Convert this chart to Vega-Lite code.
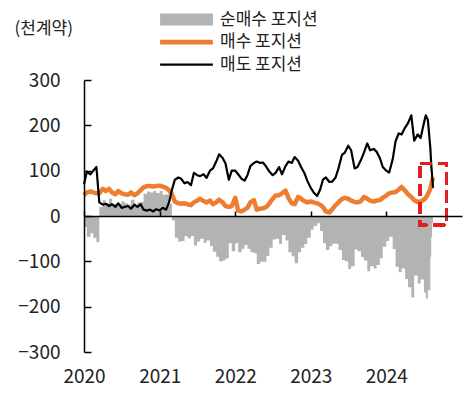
{
  "$schema": "https://vega.github.io/schema/vega-lite/v6.json",
  "width": 378,
  "height": 272,
  "autosize": "none",
  "padding": {"left": 84, "top": 80, "right": 14, "bottom": 44},
  "config": {
    "font": "Noto Sans CJK KR",
    "view": {"stroke": null}
  },
  "data": {
    "values": [
      {"d": "2020-01-01", "buy": 46, "sell": 70, "net": -24},
      {"d": "2020-01-15", "buy": 52, "sell": 98, "net": -46},
      {"d": "2020-02-01", "buy": 54, "sell": 92, "net": -38},
      {"d": "2020-02-15", "buy": 52, "sell": 100, "net": -48},
      {"d": "2020-03-01", "buy": 50, "sell": 108, "net": -58},
      {"d": "2020-03-15", "buy": 50, "sell": 30, "net": 20},
      {"d": "2020-04-01", "buy": 60, "sell": 25, "net": 35},
      {"d": "2020-04-15", "buy": 55, "sell": 27, "net": 28},
      {"d": "2020-05-01", "buy": 60, "sell": 22, "net": 38},
      {"d": "2020-05-15", "buy": 52, "sell": 26, "net": 26},
      {"d": "2020-06-01", "buy": 48, "sell": 20, "net": 28},
      {"d": "2020-06-15", "buy": 55, "sell": 28, "net": 27},
      {"d": "2020-07-01", "buy": 50, "sell": 18, "net": 32},
      {"d": "2020-07-15", "buy": 48, "sell": 20, "net": 28},
      {"d": "2020-08-01", "buy": 47, "sell": 22, "net": 25},
      {"d": "2020-08-15", "buy": 52, "sell": 16, "net": 36},
      {"d": "2020-09-01", "buy": 46, "sell": 25, "net": 21},
      {"d": "2020-09-15", "buy": 50, "sell": 20, "net": 30},
      {"d": "2020-10-01", "buy": 57, "sell": 26, "net": 31},
      {"d": "2020-10-15", "buy": 63, "sell": 14, "net": 49},
      {"d": "2020-11-01", "buy": 66, "sell": 12, "net": 54},
      {"d": "2020-11-15", "buy": 66, "sell": 14, "net": 52},
      {"d": "2020-12-01", "buy": 65, "sell": 10, "net": 55},
      {"d": "2020-12-15", "buy": 66, "sell": 15, "net": 51},
      {"d": "2021-01-01", "buy": 67, "sell": 12, "net": 55},
      {"d": "2021-01-15", "buy": 65, "sell": 18, "net": 47},
      {"d": "2021-02-01", "buy": 62, "sell": 14, "net": 48},
      {"d": "2021-02-15", "buy": 57, "sell": 30, "net": 27},
      {"d": "2021-03-01", "buy": 48, "sell": 58, "net": -10},
      {"d": "2021-03-15", "buy": 32, "sell": 80, "net": -48},
      {"d": "2021-04-01", "buy": 28, "sell": 85, "net": -57},
      {"d": "2021-04-15", "buy": 27, "sell": 82, "net": -55},
      {"d": "2021-05-01", "buy": 28, "sell": 72, "net": -44},
      {"d": "2021-05-15", "buy": 26, "sell": 75, "net": -49},
      {"d": "2021-06-01", "buy": 24, "sell": 68, "net": -44},
      {"d": "2021-06-15", "buy": 30, "sell": 95, "net": -65},
      {"d": "2021-07-01", "buy": 34, "sell": 90, "net": -56},
      {"d": "2021-07-15", "buy": 38, "sell": 88, "net": -50},
      {"d": "2021-08-01", "buy": 33, "sell": 92, "net": -59},
      {"d": "2021-08-15", "buy": 30, "sell": 84, "net": -54},
      {"d": "2021-09-01", "buy": 34, "sell": 100, "net": -66},
      {"d": "2021-09-15", "buy": 26, "sell": 105, "net": -79},
      {"d": "2021-10-01", "buy": 30, "sell": 120, "net": -90},
      {"d": "2021-10-15", "buy": 36, "sell": 136, "net": -100},
      {"d": "2021-11-01", "buy": 30, "sell": 128, "net": -98},
      {"d": "2021-11-15", "buy": 22, "sell": 116, "net": -94},
      {"d": "2021-12-01", "buy": 20, "sell": 80, "net": -60},
      {"d": "2021-12-15", "buy": 22, "sell": 100, "net": -78},
      {"d": "2022-01-01", "buy": 40, "sell": 100, "net": -60},
      {"d": "2022-01-15", "buy": 12, "sell": 92, "net": -80},
      {"d": "2022-02-01", "buy": 10, "sell": 82, "net": -72},
      {"d": "2022-02-15", "buy": 14, "sell": 78, "net": -64},
      {"d": "2022-03-01", "buy": 18, "sell": 90, "net": -72},
      {"d": "2022-03-15", "buy": 30, "sell": 110, "net": -80},
      {"d": "2022-04-01", "buy": 35, "sell": 117, "net": -82},
      {"d": "2022-04-15", "buy": 14, "sell": 120, "net": -106},
      {"d": "2022-05-01", "buy": 16, "sell": 117, "net": -101},
      {"d": "2022-05-15", "buy": 17, "sell": 118, "net": -101},
      {"d": "2022-06-01", "buy": 20, "sell": 108, "net": -88},
      {"d": "2022-06-15", "buy": 28, "sell": 98, "net": -70},
      {"d": "2022-07-01", "buy": 38, "sell": 90, "net": -52},
      {"d": "2022-07-15", "buy": 45, "sell": 95, "net": -50},
      {"d": "2022-08-01", "buy": 46, "sell": 108, "net": -62},
      {"d": "2022-08-15", "buy": 50, "sell": 92, "net": -42},
      {"d": "2022-09-01", "buy": 56, "sell": 110, "net": -54},
      {"d": "2022-09-15", "buy": 40, "sell": 120, "net": -80},
      {"d": "2022-10-01", "buy": 28, "sell": 117, "net": -89},
      {"d": "2022-10-15", "buy": 26, "sell": 130, "net": -104},
      {"d": "2022-11-01", "buy": 42, "sell": 122, "net": -80},
      {"d": "2022-11-15", "buy": 38, "sell": 108, "net": -70},
      {"d": "2022-12-01", "buy": 33, "sell": 95, "net": -62},
      {"d": "2022-12-15", "buy": 30, "sell": 78, "net": -48},
      {"d": "2023-01-01", "buy": 32, "sell": 62, "net": -30},
      {"d": "2023-01-15", "buy": 30, "sell": 52, "net": -22},
      {"d": "2023-02-01", "buy": 28, "sell": 44, "net": -16},
      {"d": "2023-02-15", "buy": 25, "sell": 58, "net": -33},
      {"d": "2023-03-01", "buy": 20, "sell": 80, "net": -60},
      {"d": "2023-03-15", "buy": 10, "sell": 85, "net": -75},
      {"d": "2023-04-01", "buy": 8, "sell": 75, "net": -67},
      {"d": "2023-04-15", "buy": 15, "sell": 76, "net": -61},
      {"d": "2023-05-01", "buy": 24, "sell": 85, "net": -61},
      {"d": "2023-05-15", "buy": 30, "sell": 105, "net": -75},
      {"d": "2023-06-01", "buy": 38, "sell": 135, "net": -97},
      {"d": "2023-06-15", "buy": 40, "sell": 140, "net": -100},
      {"d": "2023-07-01", "buy": 38, "sell": 155, "net": -117},
      {"d": "2023-07-15", "buy": 34, "sell": 145, "net": -111},
      {"d": "2023-08-01", "buy": 31, "sell": 105, "net": -74},
      {"d": "2023-08-15", "buy": 30, "sell": 108, "net": -78},
      {"d": "2023-09-01", "buy": 33, "sell": 124, "net": -91},
      {"d": "2023-09-15", "buy": 42, "sell": 140, "net": -98},
      {"d": "2023-10-01", "buy": 38, "sell": 160, "net": -122},
      {"d": "2023-10-15", "buy": 34, "sell": 145, "net": -111},
      {"d": "2023-11-01", "buy": 32, "sell": 148, "net": -116},
      {"d": "2023-11-15", "buy": 34, "sell": 142, "net": -108},
      {"d": "2023-12-01", "buy": 35, "sell": 128, "net": -93},
      {"d": "2023-12-15", "buy": 40, "sell": 108, "net": -68},
      {"d": "2024-01-01", "buy": 45, "sell": 100, "net": -55},
      {"d": "2024-01-15", "buy": 50, "sell": 96, "net": -46},
      {"d": "2024-02-01", "buy": 52, "sell": 125, "net": -73},
      {"d": "2024-02-15", "buy": 53, "sell": 165, "net": -112},
      {"d": "2024-03-01", "buy": 58, "sell": 182, "net": -124},
      {"d": "2024-03-15", "buy": 64, "sell": 180, "net": -116},
      {"d": "2024-04-01", "buy": 56, "sell": 195, "net": -139},
      {"d": "2024-04-15", "buy": 48, "sell": 205, "net": -157},
      {"d": "2024-05-01", "buy": 42, "sell": 222, "net": -180},
      {"d": "2024-05-15", "buy": 35, "sell": 166, "net": -131},
      {"d": "2024-06-01", "buy": 31, "sell": 180, "net": -149},
      {"d": "2024-06-15", "buy": 32, "sell": 172, "net": -140},
      {"d": "2024-07-01", "buy": 36, "sell": 205, "net": -169},
      {"d": "2024-07-10", "buy": 40, "sell": 222, "net": -182},
      {"d": "2024-07-20", "buy": 48, "sell": 212, "net": -164},
      {"d": "2024-08-01", "buy": 60, "sell": 150, "net": -90},
      {"d": "2024-08-05", "buy": 68, "sell": 115, "net": -47},
      {"d": "2024-08-09", "buy": 76, "sell": 92, "net": -16},
      {"d": "2024-08-14", "buy": 85, "sell": 62, "net": 23}
    ]
  },
  "encoding": {
    "x": {
      "field": "d",
      "type": "temporal",
      "scale": {"domain": ["2020-01-01", "2025-01-01"]},
      "axis": {
        "orient": "bottom",
        "offset": -136,
        "zindex": 1,
        "title": null,
        "format": "%Y",
        "values": [{"year": 2020}, {"year": 2021}, {"year": 2022}, {"year": 2023}, {"year": 2024}],
        "domainColor": "#000000",
        "domainWidth": 1.5,
        "tickColor": "#000000",
        "tickWidth": 1.5,
        "tickSize": -5,
        "labelFlush": false,
        "labelPadding": 156,
        "labelFontSize": 19,
        "labelColor": "#222222",
        "grid": false
      }
    }
  },
  "layer": [
    {
      "mark": {"type": "area", "interpolate": "step-after"},
      "encoding": {
        "y": {
          "field": "net",
          "type": "quantitative",
          "scale": {"domain": [-300, 300], "nice": false},
          "axis": {
            "values": [-300, -200, -100, 0, 100, 200, 300],
            "zindex": 1,
            "grid": false,
            "domainColor": "#000000",
            "domainWidth": 1.5,
            "tickColor": "#000000",
            "tickWidth": 1.5,
            "tickSize": -7,
            "labelPadding": 31,
            "labelFontSize": 19,
            "labelColor": "#222222",
            "title": "(천계약)",
            "titleAngle": 0,
            "titleAlign": "left",
            "titleBaseline": "middle",
            "titleX": -70,
            "titleY": -52,
            "titleFontSize": 17,
            "titleFontWeight": "normal",
            "titleColor": "#222222"
          }
        },
        "color": {
          "datum": "순매수 포지션",
          "type": "nominal",
          "scale": {
            "domain": ["순매수 포지션", "매수 포지션", "매도 포지션"],
            "range": ["#b3b3b3", "#ed7d31", "#000000"]
          },
          "legend": {
            "title": null,
            "orient": "none",
            "legendX": 94,
            "legendY": -69,
            "direction": "vertical",
            "symbolType": "square",
            "symbolSize": 144,
            "labelFontSize": 17,
            "labelColor": "#222222",
            "labelOffset": 25,
            "rowPadding": 4.6,
            "encode": {
              "symbols": {
                "update": {
                  "shape": {"signal": "datum.value === '순매수 포지션' ? 'M-4.4,-1H4.4V1H-4.4Z' : datum.value === '매수 포지션' ? 'M-4.4,-0.38H4.4V0.38H-4.4Z' : 'M-4.4,-0.18H4.4V0.18H-4.4Z'"},
                  "fill": {"signal": "scale('color', datum.value)"},
                  "stroke": {"value": "transparent"},
                  "strokeWidth": {"value": 0},
                  "opacity": {"value": 1},
                  "fillOpacity": {"value": 1}
                }
              }
            }
          }
        }
      }
    },
    {
      "mark": {"type": "line", "strokeWidth": 4.5, "strokeJoin": "round"},
      "encoding": {
        "y": {"field": "buy", "type": "quantitative"},
        "color": {"datum": "매수 포지션", "type": "nominal"}
      }
    },
    {
      "mark": {"type": "line", "strokeWidth": 2.2, "strokeJoin": "round"},
      "encoding": {
        "y": {"field": "sell", "type": "quantitative"},
        "color": {"datum": "매도 포지션", "type": "nominal"}
      }
    },
    {
      "mark": {"type": "rect", "fill": null, "filled": false, "stroke": "#e02020", "strokeWidth": 2.5, "strokeDash": [12, 6]},
      "encoding": {
        "x": {"datum": {"year": 2024, "month": 6, "date": 12}, "type": "temporal"},
        "x2": {"datum": {"year": 2024, "month": 10, "date": 19}},
        "y": {"datum": 116, "type": "quantitative"},
        "y2": {"datum": -20}
      }
    }
  ]
}
